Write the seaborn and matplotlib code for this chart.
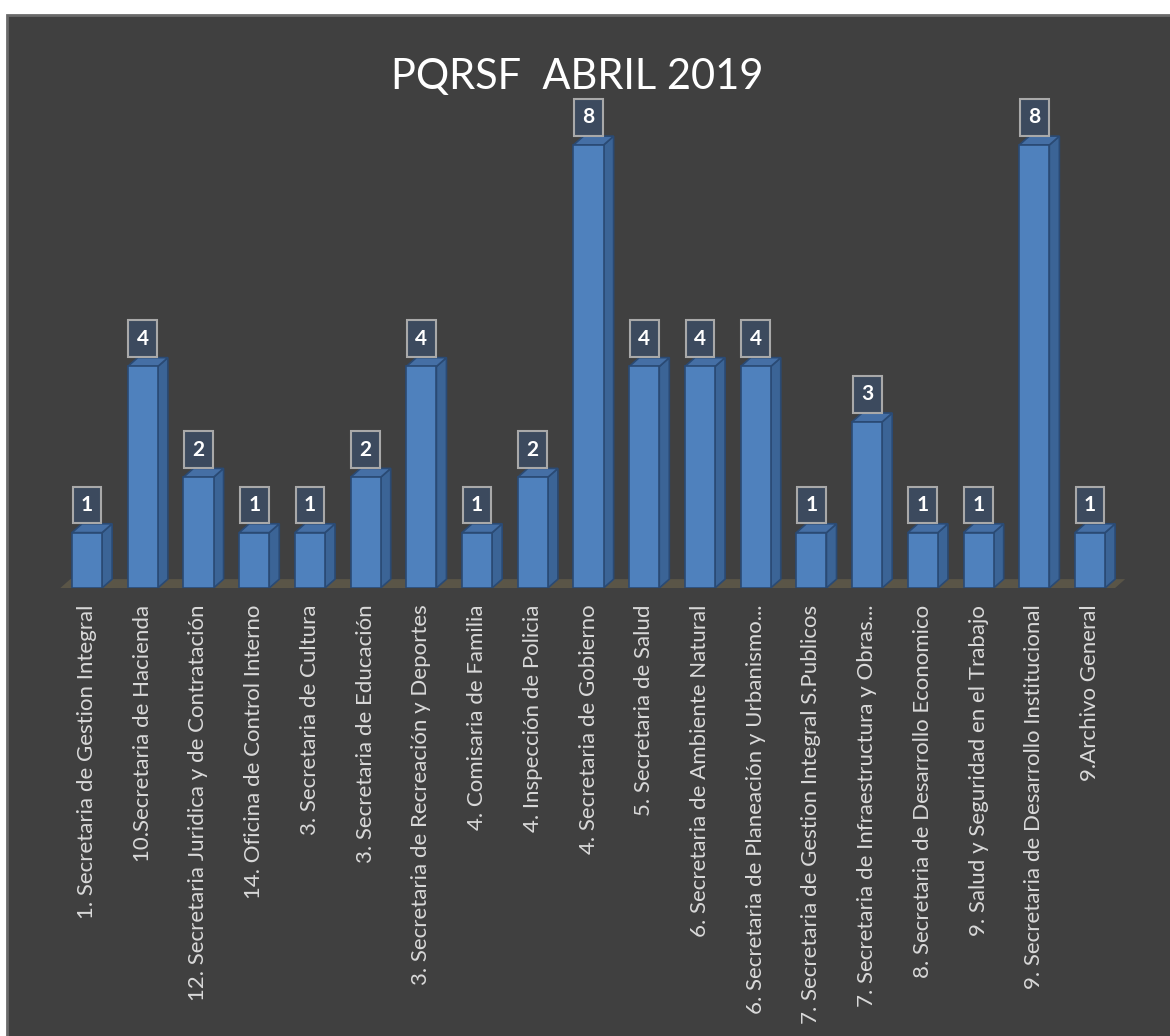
import matplotlib
matplotlib.use("Agg")
import matplotlib.pyplot as plt
from matplotlib.patches import Polygon, Rectangle
import seaborn as sns
import pandas as pd

# data
categories = [
    "1. Secretaria de Gestion Integral",
    "10.Secretaria de Hacienda",
    "12. Secretaria Juridica y de Contratación",
    "14. Oficina de Control Interno",
    "3. Secretaria de Cultura",
    "3. Secretaria de Educación",
    "3. Secretaria de Recreación y Deportes",
    "4. Comisaria de Familia",
    "4. Inspección de Policia",
    "4. Secretaria de Gobierno",
    "5. Secretaria de Salud",
    "6. Secretaria de Ambiente Natural",
    "6. Secretaria de Planeación y Urbanismo...",
    "7. Secretaria de Gestion Integral S.Publicos",
    "7. Secretaria de Infraestructura y Obras...",
    "8. Secretaria de Desarrollo Economico",
    "9. Salud y Seguridad en el Trabajo",
    "9. Secretaria de Desarrollo Institucional",
    "9.Archivo General",
]
values = [1, 4, 2, 1, 1, 2, 4, 1, 2, 8, 4, 4, 4, 1, 3, 1, 1, 8, 1]
title = "PQRSF  ABRIL 2019"

bg = "#404040"
front = "#4f81bd"
side = "#3b6496"
top = "#456fa5"
edge = "#2a4a74"
floor = "#5a5547"

df = pd.DataFrame({"cat": categories, "val": values})

sns.set_style("dark")
plt.rcParams["font.family"] = ["Lato", "DejaVu Sans"]

fig = plt.figure(figsize=(11.7, 10.36), dpi=100)
fig.patch.set_facecolor("white")
W, H = 1170, 1036
frame = Rectangle((7 / W, -0.01), 1.02, 1 - 15 / H + 0.01,
                  transform=fig.transFigure, facecolor=bg,
                  edgecolor="#6a6a6a", linewidth=2, zorder=-10)
fig.patches.append(frame)

ax = fig.add_axes([53.6 / W, (H - 588) / H, 1081 / W, (588 - 73) / H])
ax.set_facecolor("none")

sns.barplot(data=df, x="cat", y="val", color=front, width=0.54,
            saturation=1, edgecolor=edge, linewidth=1.2, ax=ax, zorder=3)

ax.set_xlim(-0.6, 18.8)
ax.set_ylim(0, 9.3)

dx, dy = 0.18, 0.16

# floor
n = len(categories)
ax.add_patch(Polygon([(-0.48, 0), (n - 0.55, 0), (n - 0.55 + dx, dy), (-0.48 + dx, dy)],
                     closed=True, facecolor=floor, edgecolor="none", zorder=1))

# 3d side and top faces from the bar patches
for p in ax.patches[:]:
    if not isinstance(p, Rectangle):
        continue
    x0, w, h = p.get_x(), p.get_width(), p.get_height()
    if w <= 0 or w > 1:
        continue
    x1 = x0 + w
    ax.add_patch(Polygon([(x1, 0), (x1 + dx, dy), (x1 + dx, h + dy), (x1, h)],
                         closed=True, facecolor=side, edgecolor=edge, lw=1.2, zorder=2.5))
    ax.add_patch(Polygon([(x0, h), (x1, h), (x1 + dx, h + dy), (x0 + dx, h + dy)],
                         closed=True, facecolor=top, edgecolor=edge, lw=1.2, zorder=2.5))

# data labels
for i, v in enumerate(values):
    ax.text(i, v + 0.5, str(v), ha="center", va="center", color="white",
            fontsize=15, fontweight="bold", zorder=5,
            bbox=dict(boxstyle="square,pad=0.4", facecolor="#3c4a5e",
                      edgecolor="#a9a9a9", linewidth=1.5))

ax.set_xlabel("")
ax.set_ylabel("")
ax.set_yticks([])
ax.tick_params(axis="x", length=0, pad=12, colors="#d9d9d9", labelsize=16)
plt.setp(ax.get_xticklabels(), rotation=90, ha="center", va="top")
for s in ax.spines.values():
    s.set_visible(False)
ax.grid(False)

fig.text(577 / W, 1 - 77 / H, title, ha="center", va="center", color="white",
         fontsize=30)

fig.savefig("out.png", dpi=100, facecolor=fig.get_facecolor())
